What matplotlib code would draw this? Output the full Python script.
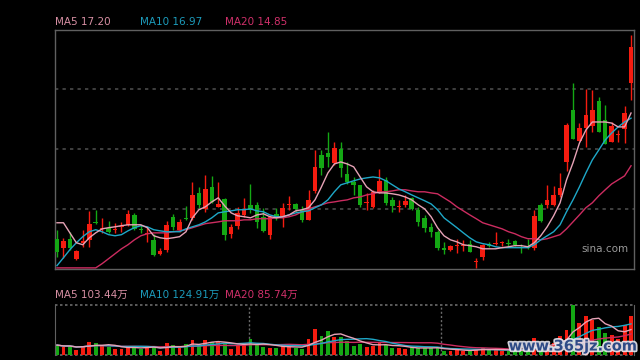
import numpy as np
import pandas as pd
import matplotlib
matplotlib.use('Agg')
import matplotlib.pyplot as plt
import matplotlib.patheffects as pe

plt.rcParams['font.family'] = ['DejaVu Sans', 'Noto Sans CJK SC']

# daily prices (90 sessions)
opens = [11.60, 11.20, 11.60, 10.71, 11.42, 11.55, 12.33, 12.04, 12.09, 12.00,
         12.13, 12.22, 12.66, 12.04, 11.82, 11.55, 10.93, 11.11, 12.58, 12.00,
         12.53, 12.53, 13.64, 12.93, 13.91, 13.02, 13.38, 11.82, 12.18, 12.66,
         13.11, 13.11, 12.58, 11.78, 12.71, 12.58, 13.11, 13.15, 12.89, 12.44,
         13.73, 15.33, 15.42, 14.98, 15.60, 14.49, 14.13, 14.00, 13.20, 13.02,
         13.64, 14.22, 13.33, 13.02, 13.11, 13.42, 12.89, 12.53, 12.13, 11.91,
         11.20, 11.11, 11.29, 11.29, 11.38, 10.58, 10.80, 11.38, 11.38, 11.40,
         11.42, 11.51, 11.24, 11.29, 11.20, 13.11, 13.11, 13.11, 13.55, 15.02,
         17.33, 15.95, 16.53, 16.62, 17.73, 16.89, 15.91, 16.22, 16.49, 18.53]
closes = [11.02, 11.51, 11.20, 11.06, 11.51, 12.27, 12.29, 12.09, 11.91, 12.04,
          12.18, 12.71, 12.04, 12.00, 11.86, 10.89, 11.06, 12.22, 12.13, 12.35,
          12.49, 13.55, 13.11, 13.82, 13.24, 13.15, 11.78, 12.13, 12.75, 12.93,
          12.89, 12.35, 11.95, 12.58, 12.58, 12.98, 13.15, 12.93, 12.44, 13.33,
          14.80, 14.75, 15.24, 15.64, 14.75, 14.13, 14.00, 13.11, 13.24, 13.69,
          14.18, 13.20, 13.06, 13.06, 13.29, 12.93, 12.35, 12.09, 11.91, 11.20,
          11.11, 11.29, 11.33, 11.33, 11.02, 10.62, 11.33, 11.29, 11.42, 11.42,
          11.38, 11.33, 11.20, 11.20, 12.62, 12.40, 13.33, 13.55, 13.86, 16.66,
          16.04, 16.53, 17.11, 17.33, 16.35, 15.82, 16.62, 16.26, 17.20, 20.13]
highs = [12.00, 11.64, 11.91, 11.11, 12.00, 12.84, 12.89, 12.53, 12.40, 12.31,
         12.35, 12.89, 12.75, 12.22, 12.13, 11.82, 11.20, 12.40, 12.71, 12.49,
         13.06, 14.13, 13.91, 14.44, 14.40, 14.13, 13.42, 12.27, 13.02, 13.42,
         14.04, 13.24, 12.98, 12.66, 12.98, 13.20, 13.51, 13.20, 13.06, 13.78,
         15.55, 15.55, 16.35, 15.91, 15.91, 15.02, 14.35, 14.00, 13.64, 13.78,
         14.71, 14.35, 13.46, 13.33, 13.55, 13.46, 13.02, 12.66, 12.31, 12.00,
         11.46, 11.33, 11.60, 11.55, 11.55, 10.75, 11.38, 11.46, 11.91, 11.51,
         11.60, 11.55, 11.38, 11.60, 12.89, 13.20, 14.00, 13.95, 14.53, 16.75,
         18.53, 16.75, 18.26, 18.22, 17.91, 17.55, 16.80, 16.44, 17.51, 20.66]
lows = [10.80, 10.75, 11.11, 10.66, 11.24, 11.24, 12.27, 11.86, 11.86, 11.86,
        11.91, 12.18, 12.00, 11.86, 11.46, 10.84, 10.89, 11.02, 12.00, 11.91,
        12.44, 12.44, 12.98, 12.80, 13.20, 13.02, 11.55, 11.64, 12.04, 12.58,
        12.75, 12.09, 11.91, 11.60, 12.44, 12.13, 12.89, 12.80, 12.35, 12.44,
        13.64, 14.44, 14.80, 14.89, 14.35, 14.04, 13.55, 13.02, 12.89, 12.98,
        13.64, 13.11, 12.80, 12.80, 13.02, 12.89, 12.18, 11.91, 11.69, 11.11,
        10.93, 11.06, 10.98, 11.06, 11.02, 10.31, 10.66, 11.24, 11.33, 11.29,
        11.29, 11.29, 10.98, 11.15, 11.11, 12.35, 12.98, 13.06, 13.46, 14.62,
        16.04, 15.95, 15.69, 16.35, 16.35, 15.82, 15.91, 15.91, 15.86, 17.78]

# moving averages as drawn on the chart
ma5 = [12.31, 12.31, 11.86, 11.42, 11.33, 11.64, 11.86, 12.04, 12.09, 12.13,
       12.18, 12.22, 12.22, 12.22, 12.09, 11.73, 11.64, 11.60, 11.64, 11.69,
       11.91, 12.53, 12.89, 13.02, 13.24, 13.42, 13.06, 12.75, 12.62, 12.58,
       12.53, 12.66, 12.71, 12.58, 12.53, 12.58, 12.66, 12.84, 12.89, 12.98,
       13.33, 13.91, 14.53, 14.93, 15.02, 14.93, 14.80, 14.35, 13.91, 13.69,
       13.64, 13.64, 13.60, 13.55, 13.46, 13.33, 13.11, 12.93, 12.58, 12.09,
       11.73, 11.55, 11.46, 11.33, 11.29, 11.24, 11.15, 11.15, 11.15, 11.20,
       11.24, 11.29, 11.29, 11.24, 11.42, 11.73, 12.13, 12.62, 13.20, 14.22,
       14.98, 15.86, 16.44, 16.80, 16.80, 16.80, 16.75, 16.58, 16.58, 17.20]
ma10 = [10.40, 10.75, 11.11, 11.42, 11.69, 11.91, 12.00, 11.91, 11.78, 11.73,
        11.78, 11.95, 12.09, 12.18, 12.13, 12.00, 11.95, 11.91, 11.91, 11.91,
        12.04, 12.13, 12.22, 12.35, 12.53, 12.75, 12.80, 12.84, 12.89, 12.89,
        12.93, 12.84, 12.80, 12.66, 12.58, 12.58, 12.66, 12.75, 12.80, 12.84,
        12.98, 13.11, 13.33, 13.69, 14.00, 14.09, 14.18, 14.26, 14.31, 14.35,
        14.31, 14.18, 14.00, 13.82, 13.69, 13.55, 13.42, 13.29, 13.15, 12.89,
        12.53, 12.31, 12.09, 11.86, 11.64, 11.46, 11.38, 11.33, 11.24, 11.20,
        11.20, 11.20, 11.20, 11.20, 11.33, 11.55, 11.73, 11.91, 12.22, 12.80,
        13.33, 13.91, 14.53, 15.11, 15.55, 16.00, 16.31, 16.58, 16.80, 16.97]
ma20 = [10.30, 10.30, 10.30, 10.30, 10.30, 10.30, 10.30, 10.49, 10.71, 10.93,
        11.15, 11.33, 11.55, 11.73, 11.82, 11.86, 11.86, 11.86, 11.91, 11.95,
        12.00, 12.09, 12.18, 12.27, 12.31, 12.35, 12.40, 12.40, 12.40, 12.44,
        12.44, 12.49, 12.49, 12.49, 12.53, 12.53, 12.58, 12.66, 12.80, 12.93,
        13.02, 13.11, 13.20, 13.24, 13.29, 13.33, 13.42, 13.46, 13.55, 13.60,
        13.69, 13.69, 13.73, 13.78, 13.78, 13.73, 13.69, 13.69, 13.64, 13.60,
        13.42, 13.24, 13.02, 12.84, 12.66, 12.49, 12.31, 12.22, 12.13, 12.04,
        11.91, 11.82, 11.69, 11.60, 11.60, 11.55, 11.60, 11.69, 11.78, 12.04,
        12.35, 12.66, 12.98, 13.20, 13.51, 13.78, 14.04, 14.22, 14.40, 14.85]

# volume in 万 shares
volume = [41, 34, 37, 21, 38, 54, 49, 38, 34, 25,
          25, 34, 38, 25, 33, 34, 16, 49, 41, 30,
          45, 62, 41, 62, 55, 58, 51, 25, 41, 45,
          66, 41, 34, 29, 29, 45, 34, 30, 25, 66,
          107, 80, 99, 75, 75, 58, 38, 45, 34, 38,
          55, 41, 29, 29, 25, 34, 29, 29, 29, 29,
          16, 18, 21, 18, 21, 23, 29, 21, 21, 18,
          18, 18, 21, 21, 70, 34, 41, 49, 78, 103,
          206, 132, 162, 144, 117, 92, 82, 66, 124, 162]
vol_ma_labels = [103.44, 124.91, 85.74]

RED = '#f51c10'
GREEN = '#14a814'
C5, C10, C20 = '#e6a2b6', '#1ea8c8', '#cc2c60'
T5, T10, T20 = '#d890a4', '#1c9cbc', '#d0306a'
GRID = '#4a4a4a'
BORDER = '#606060'

o = np.array(opens); c = np.array(closes)
h = np.array(highs); l = np.array(lows)
x = np.arange(len(o))
up = c >= o
cols = np.where(up, RED, GREEN)

fig = plt.figure(figsize=(6.4, 3.6), dpi=100, facecolor='black')
ax = fig.add_axes([55/640, 1-269/360, 579/640, 239.5/360], facecolor='black')
axv = fig.add_axes([55/640, 1-355/360, 579/640, 50/360], facecolor='black')

# price panel
ax.set_xlim(-0.31, 89.46)
ax.set_ylim(10.25, 20.92)
lo, hi = ax.get_ylim()
for f in (0.25, 0.5, 0.75):
    ax.axhline(lo + (hi-lo)*f, color=GRID, lw=1.2, ls=(0, (2, 2.5)), zorder=0)

ax.vlines(x, l, h, colors=cols, lw=1, zorder=2)
ax.bar(x, np.maximum(np.abs(c-o), 0.045), bottom=np.minimum(o, c), width=0.7,
       color=cols, linewidth=0, zorder=3)
ax.plot(x, ma20, color=C20, lw=1, zorder=4)
ax.plot(x, ma10, color=C10, lw=1, zorder=4)
ax.plot(x, ma5, color=C5, lw=1, zorder=4)

ax.set_xticks([]); ax.set_yticks([])
for s in ax.spines.values():
    s.set_color(BORDER); s.set_linewidth(1)

ax.text(0.909, 0.085, 'sina.com', transform=ax.transAxes, color='#9a9a9a',
        fontsize=7.5, ha='left', va='center')

# legend texts
fs = 7.5
fig.text(55/640, 1-22/360, 'MA5 %.2f' % ma5[-1], color=T5, fontsize=fs, va='center')
fig.text(140/640, 1-22/360, 'MA10 %.2f' % ma10[-1], color=T10, fontsize=fs, va='center')
fig.text(225/640, 1-22/360, 'MA20 %.2f' % ma20[-1], color=T20, fontsize=fs, va='center')

# volume panel
vol = pd.Series(volume, dtype=float)
axv.set_xlim(ax.get_xlim())
axv.set_ylim(0, 207)
axv.bar(x, vol, width=0.6, color=cols, linewidth=0, zorder=2)
axv.plot(x, vol.rolling(20, min_periods=1).mean(), color=C20, lw=1, zorder=3)
axv.plot(x, vol.rolling(10, min_periods=1).mean(), color=C10, lw=1, zorder=3)
axv.plot(x, vol.rolling(5, min_periods=1).mean(), color=C5, lw=1, zorder=3)
for yy in axv.get_ylim():
    axv.axhline(yy, color='#6a6a6a', lw=1.2, ls=(0, (1.5, 1.5)), clip_on=False, zorder=1)
for xx in (29.75, 59.5):
    axv.axvline(xx, color='#6a6a6a', lw=1, ls=(0, (1.5, 1.5)), zorder=1)
axv.set_xticks([]); axv.set_yticks([])
axv.spines['top'].set_visible(False)
axv.spines['bottom'].set_visible(False)
for k in ('left', 'right'):
    axv.spines[k].set_color(BORDER)

fig.text(55/640, 1-295/360, 'MA5 %.2f万' % vol_ma_labels[0], color=T5, fontsize=fs, va='center')
fig.text(140/640, 1-295/360, 'MA10 %.2f万' % vol_ma_labels[1], color=T10, fontsize=fs, va='center')
fig.text(225/640, 1-295/360, 'MA20 %.2f万' % vol_ma_labels[2], color=T20, fontsize=fs, va='center')

# site watermark
fig.text(573/640, 1-346/360, 'www.365jz.com', color='#1d3c7c', fontsize=10.5,
         fontweight='bold', ha='center', va='center', alpha=0.9,
         path_effects=[pe.withStroke(linewidth=2.5, foreground='#e8e8f0')])

fig.savefig('out.png', dpi=100, facecolor='black')
